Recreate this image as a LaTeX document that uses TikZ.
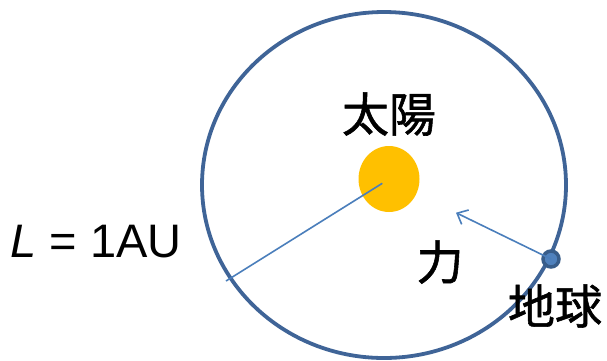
\documentclass[tikz,border=0pt]{standalone}
\usepackage{fontspec}
\setmainfont{Liberation Sans}
\newfontfamily\cjk[FakeBold=1.2]{Noto Sans CJK JP}
\usetikzlibrary{arrows.meta,shapes.geometric}
\definecolor{orbit}{HTML}{3F6497}
\definecolor{ray}{HTML}{4A7EBB}
\definecolor{sun}{HTML}{FFC000}
\definecolor{earthfill}{HTML}{4F81BD}
\definecolor{earthline}{HTML}{385D8A}
\tikzset{
  cjklabel/.style={font=\cjk\fontsize{47}{49}\selectfont, inner sep=0pt},
  raystyle/.style={draw=ray, line width=1.6pt},
}
\begin{document}
\begin{tikzpicture}[x=1pt,y=-1pt]
\useasboundingbox (0,0) rectangle (607,360);
\node[draw=orbit, line width=3.8pt, ellipse, minimum width=364pt, minimum height=346pt, inner sep=0pt] (orbit) at (384,185) {};
\node[fill=sun, ellipse, minimum width=61pt, minimum height=66pt, inner sep=0pt] (sun) at (389,179) {};
\coordinate (center) at (382.3,183.3);
\coordinate (rim) at (226,281);
\draw[raystyle] (center) -- (rim);
\node[circle, fill=earthfill, draw=earthline, line width=3.5pt, minimum size=16pt, inner sep=0pt] (earth) at (551,259) {};
\coordinate (tip) at (456,212.7);
\draw[raystyle, -{Straight Barb[length=9pt,width=16pt,line width=1.6pt]}] (earth.center) -- (tip);
\node[cjklabel] (taiyo) at (389,114) {太陽};
\node[cjklabel] (chikara) at (440,262) {力};
\node[cjklabel] (chikyu) at (555,306) {地球};
\node[font=\fontsize{47}{49}\selectfont, inner sep=0pt] (L) at (96,241.5) {\textit{L} = 1AU};
\end{tikzpicture}
\end{document}
